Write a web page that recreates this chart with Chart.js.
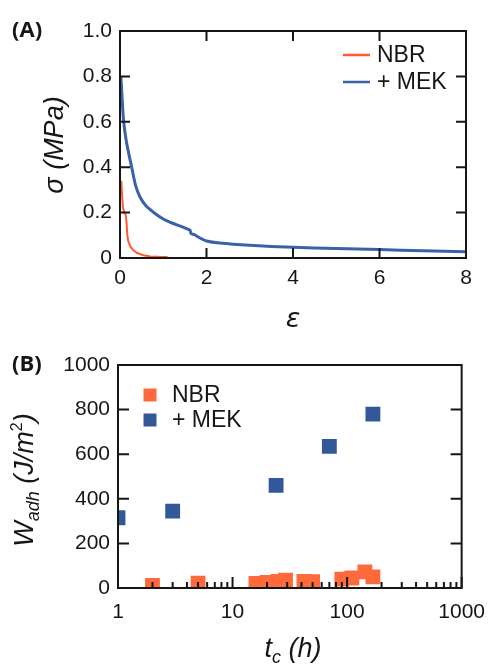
<!DOCTYPE html>
<html><head><meta charset="utf-8">
<script src="https://cdn.jsdelivr.net/npm/chart.js@4/dist/chart.umd.min.js"></script>
<style>
html,body{margin:0;padding:0;background:#fff;}
#wrap{position:relative;width:497px;height:664px;overflow:hidden;background:#fff;}
canvas{position:absolute;left:0;}
</style></head><body>
<div id="wrap">
<canvas id="ca" width="497" height="330" style="top:0"></canvas>
<canvas id="cb" width="497" height="334" style="top:330px"></canvas>
</div>
<script>
// ---------- Panel A data: stress vs strain ----------
const nbrStrain = [0.03, 0.05, 0.07, 0.10, 0.13, 0.15, 0.17, 0.19, 0.24, 0.31, 0.40, 0.54, 0.70, 0.90, 1.10];
const nbrStress = [0.34, 0.27, 0.22, 0.20, 0.19, 0.16, 0.10, 0.075, 0.05, 0.034, 0.022, 0.012, 0.007, 0.005, 0.004];
const mekStrain = [0.02, 0.05, 0.08, 0.15, 0.27, 0.36, 0.46, 0.60, 0.81, 1.00, 1.23, 1.40, 1.55, 1.62, 1.64, 1.72, 1.85, 2.00, 2.30, 3.00, 4.00, 5.00, 6.00, 7.00, 8.00];
const mekStress = [0.80, 0.70, 0.61, 0.51, 0.40, 0.32, 0.27, 0.23, 0.196, 0.172, 0.152, 0.140, 0.128, 0.122, 0.108, 0.103, 0.088, 0.075, 0.066, 0.056, 0.047, 0.042, 0.037, 0.032, 0.028];
const seriesLabels = ['NBR', '+ MEK'];
const yTicksA = [0, 0.2, 0.4, 0.6, 0.8, 1.0];
const xTicksA = [0, 2, 4, 6, 8];

// ---------- Panel B data: adhesion work vs contact time ----------
const nbrTime = [2, 5, 16, 20, 25, 29, 42, 50, 90, 110, 143, 168];
const nbrW    = [12, 22, 20, 25, 30, 35, 30, 28, 40, 45, 72, 50];
const mekTime = [1, 3, 24, 70, 168];
const mekW    = [315, 345, 460, 635, 780];
const mekErr  = [0, 0, 0, 18, 25];
const yTicksB = [0, 200, 400, 600, 800, 1000];
const xMajorB = [1, 10, 100, 1000];

const ORANGE_L = '#FF5B33', BLUE_L = '#3A62A6';
const ORANGE_S = '#FF6A3D', BLUE_S = '#33589A';
const INK = '#161616';
const FONT = 'Liberation Sans, Arial, sans-serif';

// ---------- plugins ----------
const frameTicks = {
  id: 'frameTicks',
  afterDatasetsDraw(chart, args, o) {
    const {ctx, chartArea: a} = chart;
    const xs = chart.scales.x, ys = chart.scales.y;
    ctx.save();
    ctx.strokeStyle = INK; ctx.lineWidth = 2;
    ctx.beginPath();
    xs.ticks.forEach(t => {
      const p = xs.getPixelForValue(t.value);
      const L = t.minor ? o.minorLen : o.majorLen;
      ctx.moveTo(p, a.bottom); ctx.lineTo(p, a.bottom - L);
      if (o.top) { ctx.moveTo(p, a.top); ctx.lineTo(p, a.top + L); }
    });
    ys.ticks.forEach(t => {
      const p = ys.getPixelForValue(t.value);
      ctx.moveTo(a.left, p); ctx.lineTo(a.left + o.majorLen, p);
      ctx.moveTo(a.right, p); ctx.lineTo(a.right - o.majorLen, p);
    });
    ctx.stroke();
    ctx.strokeRect(a.left, a.top, a.right - a.left, a.bottom - a.top);
    ctx.restore();
  }
};

const errorBars = {
  id: 'errorBars',
  beforeDatasetsDraw(chart) {
    const {ctx} = chart;
    const xs = chart.scales.x, ys = chart.scales.y;
    chart.data.datasets.forEach(ds => {
      if (!ds.errors) return;
      ctx.save();
      ctx.strokeStyle = ds.backgroundColor; ctx.lineWidth = 1.5;
      ds.data.forEach((pt, i) => {
        const e = ds.errors[i]; if (!e) return;
        const px = xs.getPixelForValue(pt.x);
        const y1 = ys.getPixelForValue(pt.y + e), y2 = ys.getPixelForValue(pt.y - e);
        ctx.beginPath();
        ctx.moveTo(px, y1); ctx.lineTo(px, y2);
        ctx.moveTo(px - 3, y1); ctx.lineTo(px + 3, y1);
        ctx.moveTo(px - 3, y2); ctx.lineTo(px + 3, y2);
        ctx.stroke();
      });
      ctx.restore();
    });
  }
};

function drawRich(ctx, x, y, rotated, parts, align) {
  ctx.save();
  ctx.translate(x, y);
  if (rotated) ctx.rotate(-Math.PI / 2);
  let total = 0;
  parts.forEach(p => { ctx.font = p.font; total += ctx.measureText(p.t).width; });
  let cx = align === 'center' ? -total / 2 : 0;
  ctx.fillStyle = INK; ctx.textBaseline = 'alphabetic'; ctx.textAlign = 'left';
  parts.forEach(p => {
    ctx.font = p.font;
    ctx.fillText(p.t, cx, p.dy || 0);
    cx += ctx.measureText(p.t).width;
  });
  ctx.restore();
}

const texts = {
  id: 'texts',
  afterDraw(chart, args, o) {
    (o.items || []).forEach(it => drawRich(chart.ctx, it.x, it.y, it.rot, it.parts, it.align));
  }
};

const myLegend = {
  id: 'myLegend',
  afterDraw(chart, args, o) {
    const {ctx} = chart;
    ctx.save();
    chart.data.datasets.forEach((ds, i) => {
      const y = o.y0 + i * o.dy;
      if (o.kind === 'line') {
        ctx.strokeStyle = ds.borderColor; ctx.lineWidth = 2.5;
        ctx.beginPath(); ctx.moveTo(o.x0, y); ctx.lineTo(o.x0 + o.len, y); ctx.stroke();
      } else {
        ctx.fillStyle = ds.backgroundColor;
        ctx.fillRect(o.x0 - o.len / 2, y - o.len / 2, o.len, o.len);
      }
      ctx.fillStyle = INK; ctx.font = o.font; ctx.textBaseline = 'middle'; ctx.textAlign = 'left';
      ctx.fillText(ds.label, o.tx, y + 1);
    });
    ctx.restore();
  }
};

const tickFont = {family: FONT, size: 21};

// ---------- Chart A ----------
new Chart(document.getElementById('ca'), {
  type: 'line',
  data: {
    datasets: [
      {label: seriesLabels[0], data: nbrStrain.map((x, i) => ({x, y: nbrStress[i]})),
       borderColor: ORANGE_L, backgroundColor: ORANGE_L, borderWidth: 2, pointRadius: 0, tension: 0},
      {label: seriesLabels[1], data: mekStrain.map((x, i) => ({x, y: mekStress[i]})),
       borderColor: BLUE_L, backgroundColor: BLUE_L, borderWidth: 3, pointRadius: 0, tension: 0.2}
    ]
  },
  options: {
    responsive: false, devicePixelRatio: 1, animation: false,
    layout: {padding: {top: 31, right: 31, left: 0, bottom: 0}},
    plugins: {
      legend: {display: false}, tooltip: {enabled: false},
      frameTicks: {majorLen: 10, minorLen: 6, top: true},
      myLegend: {kind: 'line', x0: 343, len: 27, tx: 377, y0: 55, dy: 27, font: '23px ' + FONT},
      texts: {items: [
        {x: 12, y: 37, parts: [{t: '(A)', font: 'bold 22px "Open Sans", sans-serif'}]},
        {x: 63, y: 145, rot: true, align: 'center', parts: [{t: 'σ (MPa)', font: 'italic 27px ' + FONT}]},
        {x: 293, y: 327, align: 'center', parts: [{t: 'ε', font: 'italic 27px "DejaVu Sans", sans-serif'}]}
      ]}
    },
    scales: {
      x: {type: 'linear', min: 0, max: 8,
          afterBuildTicks: s => { s.ticks = xTicksA.map(v => ({value: v})); },
          ticks: {font: tickFont, color: INK, padding: 8, maxRotation: 0, autoSkip: false},
          grid: {display: false, drawTicks: false}, border: {display: false},
          afterFit: s => { s.height = 72; }},
      y: {min: 0, max: 1,
          afterBuildTicks: s => { s.ticks = yTicksA.map(v => ({value: v})); },
          ticks: {font: tickFont, color: INK, padding: 8, autoSkip: false,
                  callback: v => v === 0 ? '0' : Number(v).toFixed(1)},
          grid: {display: false, drawTicks: false}, border: {display: false},
          afterFit: s => { s.width = 120; }}
    }
  },
  plugins: [frameTicks, myLegend, texts]
});

// ---------- Chart B ----------
const minorB = [];
for (let k = 0; k < 3; k++) for (let m = 2; m <= 9; m++) minorB.push(m * Math.pow(10, k));
const allTicksB = xMajorB.concat(minorB).sort((a, b) => a - b);

new Chart(document.getElementById('cb'), {
  type: 'scatter',
  data: {
    datasets: [
      {label: seriesLabels[0], data: nbrTime.map((x, i) => ({x, y: nbrW[i]})),
       backgroundColor: ORANGE_S, borderColor: ORANGE_S, pointStyle: 'rect', pointRadius: 10.5, borderWidth: 0},
      {label: seriesLabels[1], data: mekTime.map((x, i) => ({x, y: mekW[i]})), errors: mekErr,
       backgroundColor: BLUE_S, borderColor: BLUE_S, pointStyle: 'rect', pointRadius: 10.5, borderWidth: 0}
    ]
  },
  options: {
    responsive: false, devicePixelRatio: 1, animation: false,
    layout: {padding: {top: 35, right: 28, left: 0, bottom: 0}},
    plugins: {
      legend: {display: false}, tooltip: {enabled: false},
      frameTicks: {majorLen: 11, minorLen: 6, top: false},
      myLegend: {kind: 'square', x0: 150, len: 13, tx: 172, y0: 65, dy: 25, font: '23px ' + FONT},
      texts: {items: [
        {x: 12, y: 41, parts: [{t: '(B)', font: 'bold 22px "Open Sans", sans-serif'}]},
        {x: 33, y: 150, rot: true, align: 'center', parts: [
          {t: 'W', font: 'italic 27px ' + FONT},
          {t: 'adh', font: 'italic 18px ' + FONT, dy: 6},
          {t: ' (J/m', font: 'italic 27px ' + FONT},
          {t: '2', font: '16px ' + FONT, dy: -11},
          {t: ')', font: 'italic 27px ' + FONT}
        ]},
        {x: 293, y: 327, align: 'center', parts: [
          {t: 't', font: 'italic 27px ' + FONT},
          {t: 'c', font: 'italic 18px ' + FONT, dy: 6},
          {t: ' (h)', font: 'italic 27px ' + FONT}
        ]}
      ]}
    },
    scales: {
      x: {type: 'logarithmic', min: 1, max: 1000,
          afterBuildTicks: s => { s.ticks = allTicksB.map(v => ({value: v, minor: !xMajorB.includes(v)})); },
          ticks: {font: tickFont, color: INK, padding: 12, maxRotation: 0, autoSkip: false,
                  callback: v => xMajorB.includes(v) ? String(v) : ''},
          grid: {display: false, drawTicks: false}, border: {display: false},
          afterFit: s => { s.height = 76; }},
      y: {min: 0, max: 1000,
          afterBuildTicks: s => { s.ticks = yTicksB.map(v => ({value: v})); },
          ticks: {font: tickFont, color: INK, padding: 8, autoSkip: false,
                  callback: v => String(v)},
          grid: {display: false, drawTicks: false}, border: {display: false},
          afterFit: s => { s.width = 118; }}
    }
  },
  plugins: [errorBars, frameTicks, myLegend, texts]
});
</script>
</body></html>
